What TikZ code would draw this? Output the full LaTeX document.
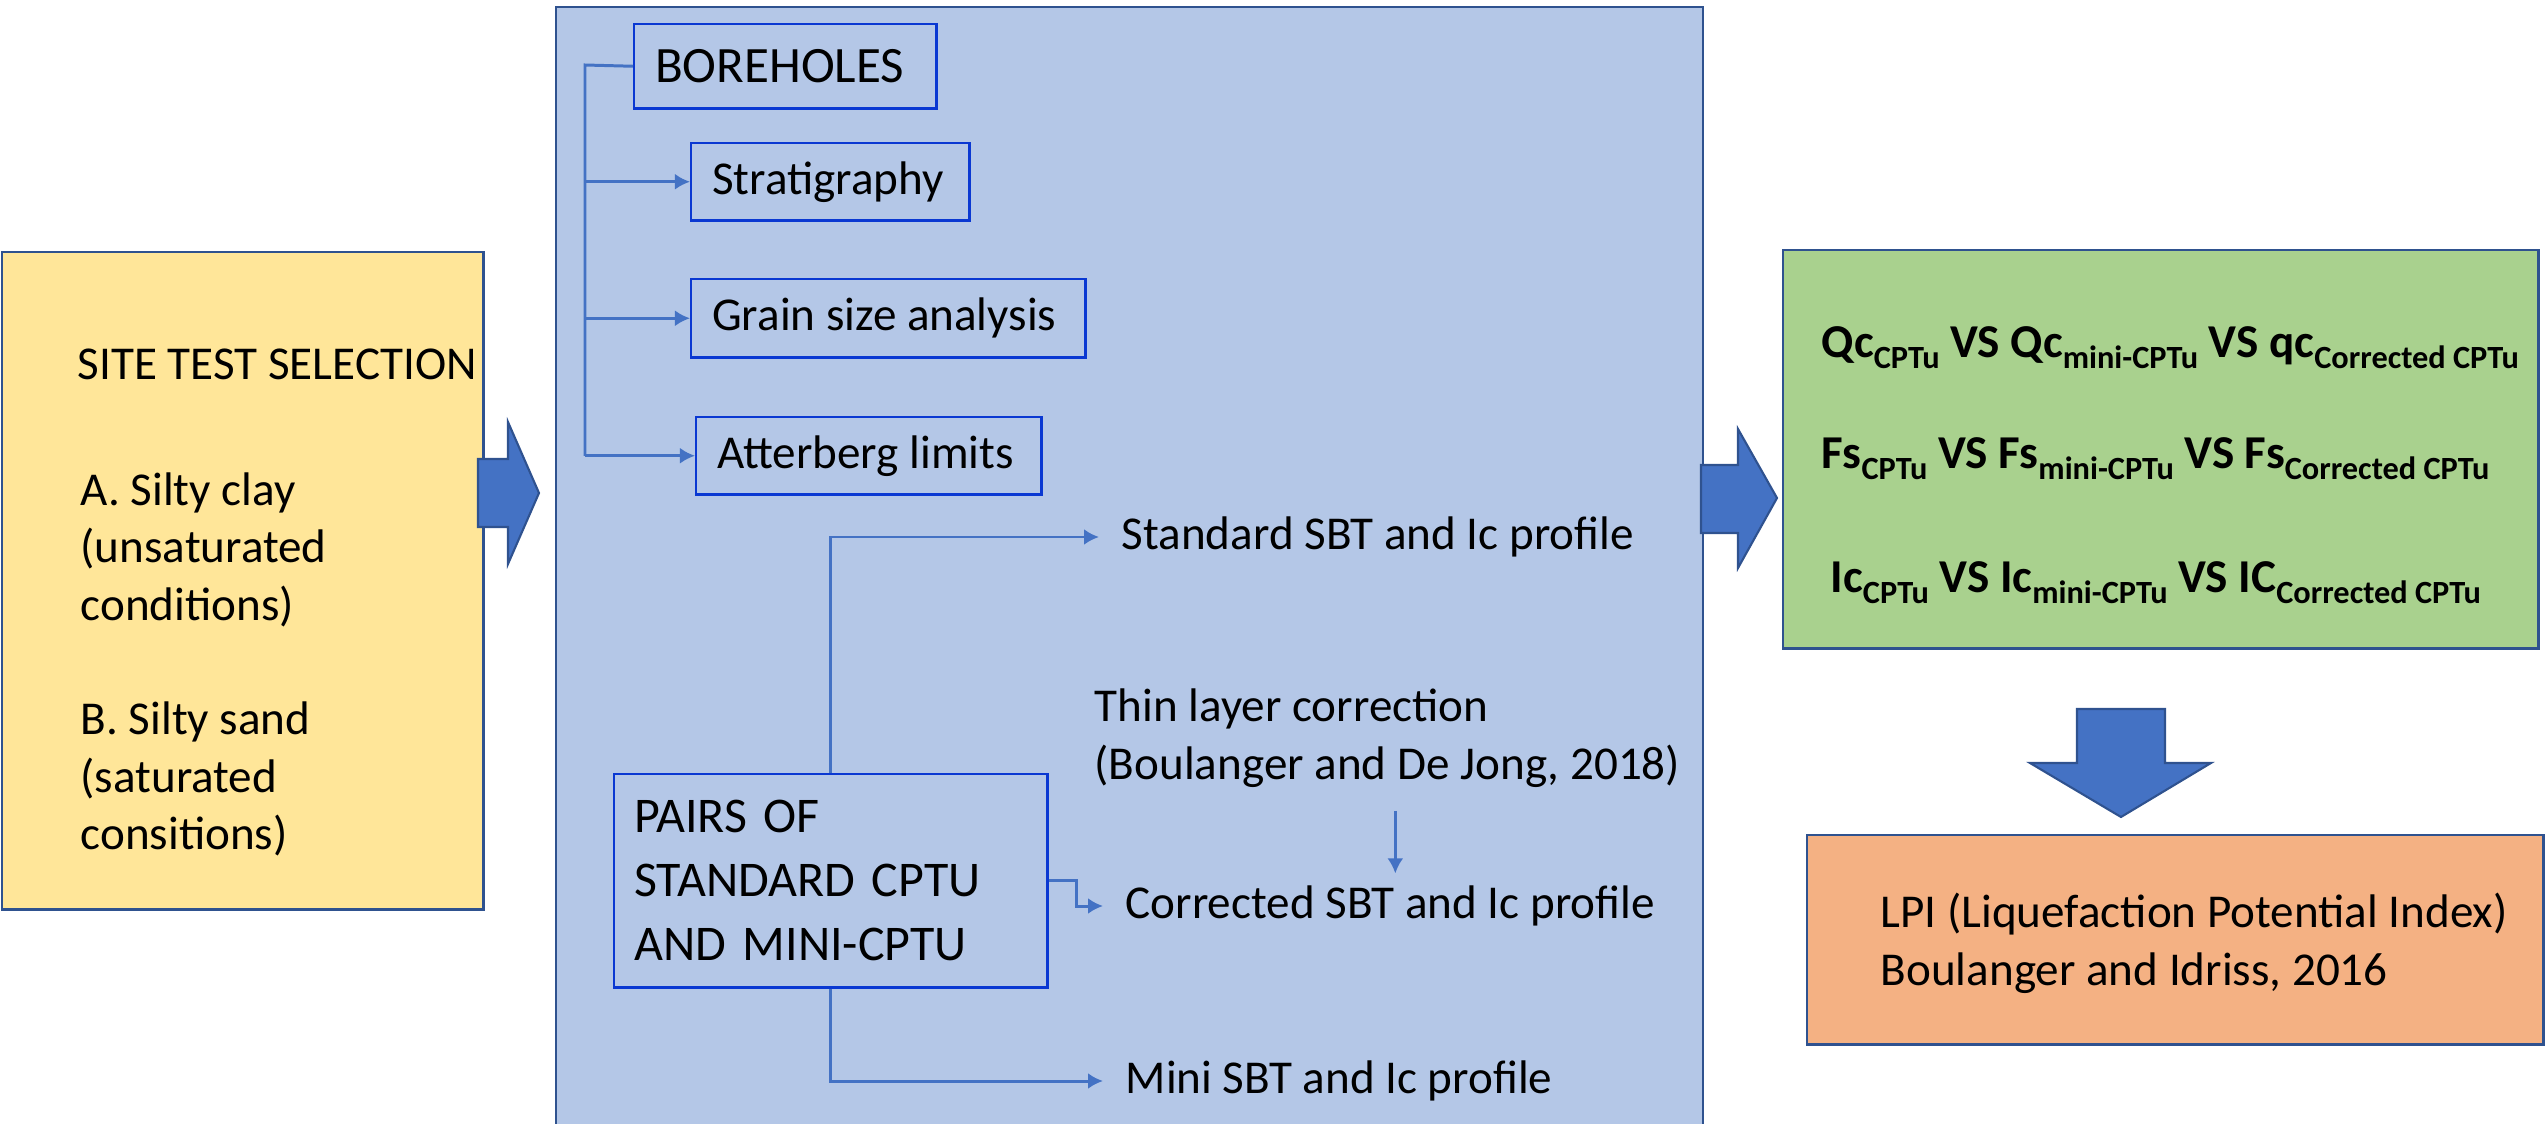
\documentclass[tikz,border=0pt]{standalone}
\usepackage{fontspec}
\setmainfont{Carlito}
\usetikzlibrary{arrows.meta}
\definecolor{yel}{HTML}{FFE699}
\definecolor{bluefill}{HTML}{B4C7E7}
\definecolor{greenfill}{HTML}{A9D18E}
\definecolor{orangefill}{HTML}{F4B183}
\definecolor{edge}{HTML}{2F528F}
\definecolor{ibord}{HTML}{0A38D2}
\definecolor{lineblue}{HTML}{4472C4}
\newcommand\fm{\fontsize{13.4}{16}\selectfont}
\newcommand\fbig{\fontsize{14.5}{18.2}\selectfont}
\newcommand\fpair{\fontsize{14.2}{18.2}\selectfont}
\newcommand\sbs[1]{\raisebox{-0.24em}{\fontsize{9.2}{9.2}\selectfont #1}}
\begin{document}
\begin{tikzpicture}[x=0.01cm,y=-0.01cm,
  panel/.style={draw=edge, line width=0.7pt, inner sep=0pt, anchor=north west},
  ibox/.style={draw=ibord, line width=0.7pt, align=left, inner xsep=0.21cm, inner ysep=0pt, anchor=north west, font=\fm},
  txt/.style={inner sep=0pt, font=\fm, anchor=base west},
  ptxt/.style={font=\fm, inner xsep=0.22cm, anchor=west},
  gtxt/.style={inner sep=0pt, font=\fm\bfseries, anchor=base west},
  conn/.style={draw=lineblue, line width=0.85pt},
  arr/.style={conn, -{Latex[length=0.15cm,width=0.16cm]}},
  fat/.style={fill=lineblue, draw=edge, line width=0.6pt}]
\useasboundingbox (0,0) rectangle (2547,1124);
% panels
\node[panel, fill=yel, minimum width=4.81cm, minimum height=6.57cm] (site) at (1,251) {};
\node[panel, fill=bluefill, minimum width=11.46cm, minimum height=11.3cm] (mid) at (555,6) {};
\node[panel, fill=greenfill, minimum width=7.55cm, minimum height=3.98cm] (res) at (1782,249) {};
\node[panel, fill=orangefill, minimum width=7.36cm, minimum height=2.09cm] (lpi) at (1806,834) {};
% yellow texts
\node[txt] (s0) at (77,379) {SITE TEST SELECTION};
\node[txt] (s1) at (80,505) {A. Silty clay};
\node[txt] (s2) at (80,562) {(unsaturated};
\node[txt] (s3) at (80,620) {conditions)};
\node[txt] (s4) at (80,734) {B. Silty sand};
\node[txt] (s5) at (80,792) {(saturated};
\node[txt] (s6) at (80,849) {consitions)};
% fat arrows
\draw[fat] (478,459) -- (508,459) -- (508,422) -- (539,493) -- (508,564) -- (508,527) -- (478,527) -- cycle;
\draw[fat] (1701,465) -- (1738,465) -- (1738,429) -- (1777,498) -- (1738,568) -- (1738,533) -- (1701,533) -- cycle;
\draw[fat] (2077,709) -- (2165,709) -- (2165,763) -- (2211,763) -- (2121,817) -- (2030,763) -- (2077,763) -- cycle;
% boreholes
\node[ibox, font=\fbig, minimum height=0.84cm] (bh) at (633,23) {\makebox[2.6cm][l]{BOREHOLES}};
\node[ibox, minimum height=0.77cm] (st) at (690,142) {\makebox[2.36cm][l]{Stratigraphy}};
\node[ibox, minimum height=0.78cm] (gs) at (690,278) {\makebox[3.52cm][l]{Grain size analysis}};
\node[ibox, minimum height=0.77cm] (at) at (695,416) {\makebox[3.03cm][l]{Atterberg limits}};
\coordinate (trunk) at (585,65);
\draw[conn] (bh.west) -- (trunk) -- (trunk |- at.west);
\draw[arr] (trunk |- st.west) -- (st.west);
\draw[arr] (trunk |- gs.west) -- (gs.west);
\draw[arr] (trunk |- at.west) -- (at.west);
% CPTU pairs
\node[ibox, font=\fpair, minimum width=4.33cm, minimum height=2.13cm, text width=3.93cm, inner xsep=0.2cm] (pairs) at (613,773) {PAIRS OF\\STANDARD CPTU\\AND MINI-CPTU};
\node[ptxt] (std) at (1099,537) {Standard SBT and Ic profile};
\node[ptxt] (cor) at (1103,906) {Corrected SBT and Ic profile};
\node[ptxt] (mini) at (1103,1081) {Mini SBT and Ic profile};
\node[txt] (thin1) at (1094,721) {Thin layer correction};
\node[txt] (thin2) at (1094,779) {(Boulanger and De Jong, 2018)};
\draw[arr] (pairs.north) |- (std.west);
\draw[arr] (pairs.south) |- (mini.west);
\draw[arr] (pairs.east) -- ++(28,0) |- (cor.west);
\draw[arr] ([xshift=0.05cm]thin2.south -| cor.north) ++(0,23) -- ([xshift=0.05cm]cor.north);
% results
\node[gtxt] (r1) at (1821,357) {Qc\sbs{CPTu} VS Qc\sbs{mini-CPTu} VS qc\sbs{Corrected CPTu}};
\node[gtxt] (r2) at (1821,468) {Fs\sbs{CPTu} VS Fs\sbs{mini-CPTu} VS Fs\sbs{Corrected CPTu}};
\node[gtxt] (r3) at (1830,592) {Ic\sbs{CPTu} VS Ic\sbs{mini-CPTu} VS IC\sbs{Corrected CPTu}};
% LPI
\node[txt] (l1) at (1880,927) {LPI (Liquefaction Potential Index)};
\node[txt] (l2) at (1880,985) {Boulanger and Idriss, 2016};
\end{tikzpicture}
\end{document}
